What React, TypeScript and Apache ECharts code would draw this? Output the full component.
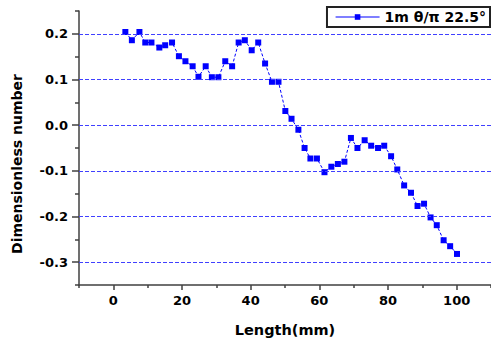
import React, { useEffect, useRef } from "react";
import * as echarts from "echarts";

const xValues = [3.5, 5.4, 7.6, 9.3, 11.1, 13.4, 15.1, 17.1, 19.1, 21.0, 23.1, 24.8, 26.9, 28.7, 30.6, 32.6, 34.6, 36.5, 38.3, 40.3, 42.2, 44.2, 46.2, 48.1, 50.1, 51.9, 53.9, 55.7, 57.4, 59.3, 61.5, 63.5, 65.4, 67.3, 69.2, 71.1, 73.2, 75.1, 77.1, 78.9, 80.9, 82.7, 84.7, 86.7, 88.6, 90.5, 92.4, 94.2, 96.2, 98.1, 100.1];
const yValues = [0.204, 0.186, 0.204, 0.181, 0.181, 0.170, 0.175, 0.181, 0.151, 0.140, 0.129, 0.106, 0.129, 0.105, 0.105, 0.140, 0.129, 0.181, 0.186, 0.164, 0.181, 0.135, 0.095, 0.095, 0.031, 0.014, -0.010, -0.050, -0.073, -0.073, -0.103, -0.091, -0.085, -0.080, -0.028, -0.050, -0.033, -0.045, -0.050, -0.045, -0.068, -0.097, -0.132, -0.148, -0.177, -0.172, -0.202, -0.219, -0.252, -0.265, -0.282];

const xMajorTicks = [0, 20, 40, 60, 80, 100];
const xMinorTicks = [-10, 10, 30, 50, 70, 90, 110];
const yMajorTicks = [-0.3, -0.2, -0.1, 0.0, 0.1, 0.2];
const yMinorTicks = [-0.35, -0.25, -0.15, -0.05, 0.05, 0.15, 0.25];

const seriesName = "1m θ/π 22.5°";
const xTitle = "Length(mm)";
const yTitle = "Dimensionless number";

const FONT = "DejaVu Sans";

export default function App() {
  const ref = useRef<HTMLDivElement>(null);
  useEffect(() => {
    if (!ref.current) return;
    const chart = echarts.init(ref.current, null, { renderer: "svg" });
    const axisColor = "#404040";
    const gridColor = "#4040ff";
    const labelStyle = { color: "#000", fontFamily: FONT, fontWeight: "bold" as const, fontSize: 13 };
    chart.setOption({
      animation: false,
      backgroundColor: "#fff",
      grid: { left: 79, right: 0, top: 11, bottom: 58, containLabel: false },
      xAxis: [
        {
          type: "value", min: -10, max: 110, position: "bottom",
          axisLine: { show: true, onZero: false, lineStyle: { color: axisColor, width: 1.5 } },
          axisTick: { show: true, inside: false, length: 5, customValues: xMajorTicks, lineStyle: { color: axisColor, width: 1.5 } },
          axisLabel: { show: true, customValues: xMajorTicks, margin: 9, ...labelStyle },
          splitLine: { show: false },
        },
        {
          type: "value", min: -10, max: 110, position: "bottom",
          axisLine: { show: false, onZero: false },
          axisTick: { show: true, inside: false, length: 3, customValues: xMinorTicks, lineStyle: { color: axisColor, width: 1.5 } },
          axisLabel: { show: false },
          splitLine: { show: false },
        },
      ],
      yAxis: [
        {
          type: "value", min: -0.35, max: 0.25, position: "left",
          axisLine: { show: true, onZero: false, lineStyle: { color: axisColor, width: 1.5 } },
          axisTick: { show: true, inside: false, length: 7, customValues: yMajorTicks, lineStyle: { color: axisColor, width: 1.5 } },
          axisLabel: { show: true, customValues: yMajorTicks, margin: 11, formatter: (v: number) => v.toFixed(1), ...labelStyle },
          splitLine: { show: false },
        },
        {
          type: "value", min: -0.35, max: 0.25, position: "left",
          axisLine: { show: false, onZero: false },
          axisTick: { show: true, inside: false, length: 4, customValues: yMinorTicks, lineStyle: { color: axisColor, width: 1.5 } },
          axisLabel: { show: false },
          splitLine: { show: false },
        },
      ],
      legend: {
        show: true,
        right: 1,
        top: 7,
        orient: "horizontal",
        padding: [3, 4, 3, 8],
        borderColor: "#222",
        borderWidth: 2,
        backgroundColor: "#fff",
        itemWidth: 44,
        itemHeight: 7,
        itemGap: 5,
        lineStyle: { type: "solid", width: 1.2 },
        textStyle: { color: "#000", fontFamily: FONT, fontWeight: "bold", fontSize: 14, padding: [0, 0, 0, 0] },
        data: [seriesName],
      },
      graphic: [
        {
          type: "text",
          x: 17, y: 164,
          rotation: Math.PI / 2,
          style: { text: yTitle, fill: "#000", font: `bold 14px "${FONT}"`, textAlign: "center", textVerticalAlign: "middle" },
        },
        {
          type: "text",
          x: 285, y: 330,
          style: { text: xTitle, fill: "#000", font: `bold 14.5px "${FONT}"`, textAlign: "center", textVerticalAlign: "middle" },
        },
      ],
      series: [
        {
          name: seriesName,
          type: "line",
          xAxisIndex: 0,
          yAxisIndex: 0,
          data: xValues.map((x, i) => [x, yValues[i]]),
          symbol: "rect",
          symbolSize: 6,
          showAllSymbol: true,
          color: "#0000ff",
          itemStyle: { color: "#0000ff" },
          lineStyle: { color: "#0000ff", width: 1, type: [3, 2] },
          markLine: {
            silent: true,
            symbol: ["none", "none"],
            label: { show: false },
            lineStyle: { color: gridColor, width: 1, type: [4, 2] },
            emphasis: { disabled: true },
            data: yMajorTicks.map((v) => ({ yAxis: v })),
          },
        },
      ],
    });
    return () => chart.dispose();
  }, []);
  return <div ref={ref} style={{ width: 491, height: 343, position: "absolute", left: 0, top: 0 }} />;
}
